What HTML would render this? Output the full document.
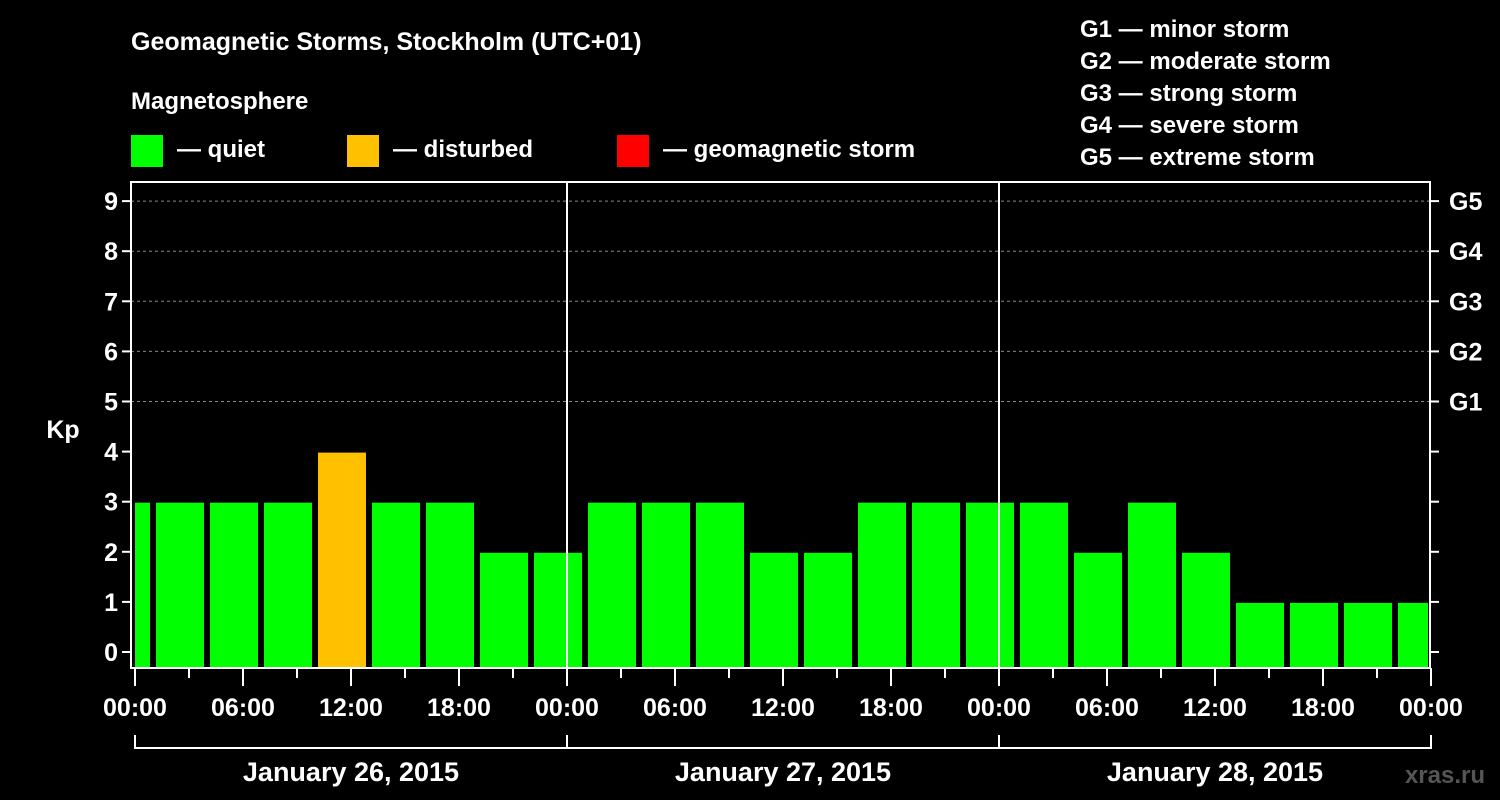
<!DOCTYPE html>
<html><head><meta charset="utf-8"><style>
html,body{margin:0;padding:0;background:#000;width:1500px;height:800px;overflow:hidden}
svg{display:block;font-family:"Liberation Sans",Arial,sans-serif;font-weight:bold}
</style></head><body>
<svg id="c" width="1500" height="800" viewBox="0 0 1500 800">
<text x="131" y="50" fill="#fff" font-size="25">Geomagnetic Storms, Stockholm (UTC+01)</text>
<text x="131" y="109" fill="#fff" font-size="24">Magnetosphere</text>
<g><rect x="131" y="135" width="32" height="32" fill="#00ff00"/><text x="177" y="157" fill="#fff" font-size="24">— quiet</text></g>
<g><rect x="347" y="135" width="32" height="32" fill="#ffc000"/><text x="393" y="157" fill="#fff" font-size="24">— disturbed</text></g>
<g><rect x="617" y="135" width="32" height="32" fill="#ff0000"/><text x="663" y="157" fill="#fff" font-size="24">— geomagnetic storm</text></g>
<g fill="#fff" font-size="24">
<text x="1080" y="37">G1 — minor storm</text>
<text x="1080" y="69">G2 — moderate storm</text>
<text x="1080" y="101">G3 — strong storm</text>
<text x="1080" y="133">G4 — severe storm</text>
<text x="1080" y="165">G5 — extreme storm</text>
</g>
<text x="63" y="438" fill="#fff" font-size="25" text-anchor="middle">Kp</text>
<text x="1485" y="783" fill="#555" font-size="24" text-anchor="end">xras.ru</text>
<g id="g"></g>
</svg>
<script>
const kpValues=[3,3,3,3,4,3,3,2,2,3,3,3,2,2,3,3,3,3,2,3,2,1,1,1,1];
const startHour=-2;
const dayLabels=["January 26, 2015","January 27, 2015","January 28, 2015"];
const timeLabels=["00:00","06:00","12:00","18:00"];
const gLabels=["G1","G2","G3","G4","G5"];
const NS="http://www.w3.org/2000/svg";
const g=document.getElementById('g');
const X0=135,PX_H=18,L=131,R=1430,T=182,B=668;
const x=h=>X0+h*PX_H;
const y=v=>652-v*50.1;
function el(t,a){const e=document.createElementNS(NS,t);for(const k in a)e.setAttribute(k,a[k]);g.appendChild(e);return e;}
const cp=el('clipPath',{id:'cp'});cp.appendChild(document.createElementNS(NS,'rect'));
const cr=cp.firstChild;cr.setAttribute('x',L+4);cr.setAttribute('y',T);cr.setAttribute('width',R-L-6);cr.setAttribute('height',B-T);
for(let v=5;v<=9;v++){const l=el('line',{x1:L,x2:R,y1:y(v),y2:y(v),stroke:'#888','stroke-dasharray':'3,3','stroke-width':1});

}
kpValues.forEach((v,i)=>{const h=startHour+i*3;const c=v>=5?'#ff0000':v>=4?'#ffc000':'#00ff00';
const r=el('rect',{x:x(h)+3,y:y(v)+1,width:3*PX_H-6,height:B-1-y(v)-1,fill:c,'clip-path':'url(#cp)'});

});
for(let d=1;d<3;d++){const l=el('line',{x1:x(24*d),x2:x(24*d),y1:T,y2:B,stroke:'#fff','stroke-width':2});

}
const fr=el('rect',{x:L,y:T,width:R-L,height:B-T,fill:'none',stroke:'#fff','stroke-width':2});


for(let v=0;v<=9;v++){el('line',{x1:L-9,x2:L,y1:y(v),y2:y(v),stroke:'#fff','stroke-width':2});
el('line',{x1:R,x2:R+9,y1:y(v),y2:y(v),stroke:'#fff','stroke-width':2});
const t=el('text',{x:L-13,y:y(v)+9,fill:'#fff','font-size':25,'text-anchor':'end'});t.textContent=v;


if(v>=5){const gt=el('text',{x:1449,y:y(v)+9,fill:'#fff','font-size':25});gt.textContent=gLabels[v-5];

}}
for(let h=0;h<=72;h+=3){const major=h%6===0;el('line',{x1:x(h),x2:x(h),y1:B,y2:B+(major?18:10),stroke:'#fff','stroke-width':2});
if(major){const t=el('text',{x:x(h),y:B+48,fill:'#fff','font-size':25,'text-anchor':'middle'});t.textContent=timeLabels[(h/6)%4];

}}
el('line',{x1:x(0),x2:x(72),y1:748,y2:748,stroke:'#fff','stroke-width':2});
for(let d=0;d<=3;d++)el('line',{x1:x(24*d),x2:x(24*d),y1:735,y2:749,stroke:'#fff','stroke-width':2});
dayLabels.forEach((s,d)=>{const t=el('text',{x:x(24*d+12),y:781,fill:'#fff','font-size':27,'text-anchor':'middle'});t.textContent=s;

});
</script>
</body></html>
